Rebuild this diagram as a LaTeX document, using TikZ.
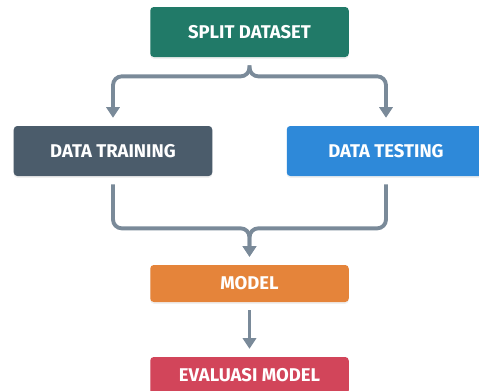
\documentclass[tikz,border=0pt]{standalone}
\usepackage{fontspec}
\setsansfont{Fira Sans}
\usepackage{tikz}
\usetikzlibrary{positioning,calc,shadows,arrows.meta}

\definecolor{splitgreen}{RGB}{33,122,104}
\definecolor{trainslate}{RGB}{75,92,107}
\definecolor{testblue}{RGB}{46,137,217}
\definecolor{modelorange}{RGB}{229,132,58}
\definecolor{evalred}{RGB}{210,69,90}
\definecolor{linegray}{RGB}{122,138,153}

\tikzset{
    box/.style={rectangle, rounded corners=2pt, minimum width=3.97cm, minimum height=1cm,
        text=white, font=\sffamily\bfseries\fontsize{10.5}{12}\selectfont,
        drop shadow={opacity=0.12, shadow xshift=0pt, shadow yshift=-1pt}},
    conn/.style={linegray, line width=2.2pt, rounded corners=5pt,
        -{Triangle[length=6pt,width=7.5pt]}, shorten <=4.5pt, shorten >=4.5pt}
}

\begin{document}
\begin{tikzpicture}
    \useasboundingbox (0,0) rectangle (9.58,-7.82);

    % Boxes
    \node[box, fill=splitgreen] (split) at (4.99,-0.64) {SPLIT DATASET};
    \node[box, fill=trainslate] (training) at (2.26,-3.02) {DATA TRAINING};
    \node[box, fill=testblue] (testing) at (7.72,-3.02) {DATA TESTING};
    \node[box, fill=modelorange, minimum height=0.74cm] (model) at (4.99,-5.67) {MODEL};
    \node[box, fill=evalred, minimum height=0.74cm] (eval) at (4.99,-7.51) {EVALUASI MODEL};

    % Split
    \draw[conn] (split.south) -- ++(0,-0.38) -| (training.north);
    \draw[conn] (split.south) -- ++(0,-0.38) -| (testing.north);

    % Merge
    \draw[conn] (training.south) -- ++(0,-1.04) -| (model.north);
    \draw[conn] (testing.south) -- ++(0,-1.04) -| (model.north);

    \draw[conn] (model.south) -- (eval.north);
\end{tikzpicture}
\end{document}
